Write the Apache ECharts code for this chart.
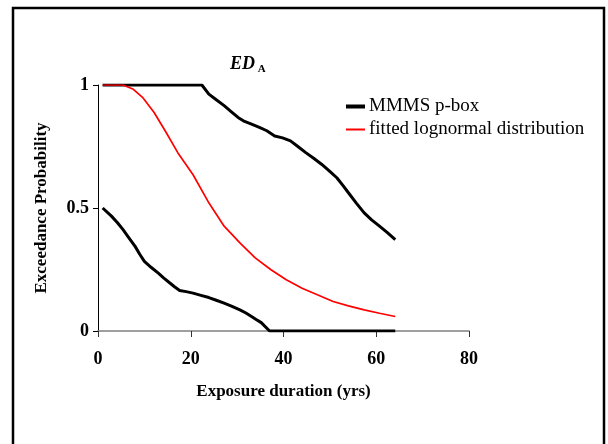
<!DOCTYPE html>
<html><head><meta charset="utf-8">
<script src="https://cdn.jsdelivr.net/npm/echarts@6/dist/echarts.min.js"></script>
<style>html,body{margin:0;padding:0;background:#fff}#c{width:608px;height:444px}</style>
</head><body><div id="c"></div>
<script>
const xTicks = [0, 20, 40, 60, 80];
const yTicks = [0, 0.5, 1];
const seriesNames = ['MMMS p-box', 'fitted lognormal distribution'];
const upperX = [1, 22.4, 23.9, 25.5, 27.2, 28.7, 30.2, 31.6, 33.1, 34.8, 36.4, 38.1, 39.8, 41.5, 43.1, 44.8, 46.5, 48.2, 49.8, 51.5, 52.8, 54, 55.7, 57.4, 59, 60.7, 62.4, 64.1];
const upperY = [1, 1, 0.963, 0.94, 0.916, 0.892, 0.868, 0.852, 0.841, 0.828, 0.814, 0.793, 0.785, 0.773, 0.75, 0.725, 0.702, 0.678, 0.652, 0.623, 0.592, 0.562, 0.52, 0.48, 0.452, 0.426, 0.4, 0.371];
const lowerX = [1, 2.9, 4.2, 5.4, 6.7, 8, 9, 10, 11.5, 13, 14.2, 15.5, 16.5, 17.6, 19, 20.5, 22.2, 23.9, 25.5, 27.2, 28.9, 30.6, 31.9, 33.1, 34.1, 35.2, 37, 64.1];
const lowerY = [0.5, 0.467, 0.44, 0.412, 0.378, 0.344, 0.312, 0.283, 0.258, 0.235, 0.215, 0.195, 0.18, 0.165, 0.16, 0.154, 0.145, 0.136, 0.125, 0.113, 0.1, 0.086, 0.073, 0.059, 0.047, 0.034, 0, 0];
const fitX = [1, 5.4, 7.5, 9.6, 12.1, 14.7, 17.2, 20.5, 23.9, 27.2, 30.6, 33.9, 37.3, 40.6, 44, 47.3, 50.7, 54, 57.4, 60.7, 64.1];
const fitY = [1, 1, 0.984, 0.95, 0.888, 0.807, 0.725, 0.635, 0.521, 0.426, 0.358, 0.297, 0.249, 0.208, 0.174, 0.147, 0.12, 0.102, 0.086, 0.072, 0.059];

const zip = (xs, ys) => xs.map((x, i) => [x, ys[i]]);
const F = 'Liberation Serif';
const chart = echarts.init(document.getElementById('c'), null, {renderer: 'canvas'});
chart.setOption({
  animation: false,
  backgroundColor: '#fff',
  grid: {left: 98, right: 139, top: 85, bottom: 113},
  title: {
    text: '{a|ED}{b| A}',
    left: 225, top: 50,
    textStyle: {
      rich: {
        a: {fontFamily: F, fontSize: 18, fontWeight: 'bold', fontStyle: 'italic', color: '#000', verticalAlign: 'bottom'},
        b: {fontFamily: F, fontSize: 11, fontWeight: 'bold', color: '#000', verticalAlign: 'bottom', padding: [0, 0, -2, 0]}
      }
    }
  },
  graphic: [{
    type: 'rect', shape: {x: 13, y: 8, width: 591, height: 460},
    style: {fill: 'none', stroke: '#000', lineWidth: 2.5}, silent: true
  }],
  legend: [{
    data: [seriesNames[0]], left: 341, top: 92, icon: 'rect', itemWidth: 19, itemHeight: 4, itemGap: 4,
    textStyle: {fontFamily: F, fontSize: 19, color: '#000', padding: [0, 0, 0, -1]}
  }, {
    data: [seriesNames[1]], left: 341, top: 115, icon: 'rect', itemWidth: 19, itemHeight: 2,
    textStyle: {fontFamily: F, fontSize: 19, color: '#000', padding: [0, 0, 0, -1]}
  }],
  xAxis: {
    type: 'value', min: xTicks[0], max: xTicks[xTicks.length - 1], interval: 20,
    name: 'Exposure duration (yrs)', nameLocation: 'middle', nameGap: 52,
    nameTextStyle: {fontFamily: F, fontSize: 17, fontWeight: 'bold', color: '#000'},
    axisLine: {show: true, onZero: false, lineStyle: {color: '#808080', width: 1.5}},
    axisTick: {show: true, length: 6, inside: false, lineStyle: {color: '#333', width: 1}},
    axisLabel: {fontFamily: F, fontSize: 18, fontWeight: 'bold', color: '#000', margin: 19},
    splitLine: {show: false}
  },
  yAxis: {
    type: 'value', min: yTicks[0], max: yTicks[yTicks.length - 1], interval: 0.5,
    name: 'Exceedance Probability', nameLocation: 'middle', nameGap: 48, nameRotate: 90,
    nameTextStyle: {fontFamily: F, fontSize: 17, fontWeight: 'bold', color: '#000'},
    axisLine: {show: true, lineStyle: {color: '#000', width: 1}},
    axisTick: {show: true, length: 5, lineStyle: {color: '#000', width: 1}},
    axisLabel: {fontFamily: F, fontSize: 18, fontWeight: 'bold', color: '#000', margin: 9,
      formatter: v => String(v)},
    splitLine: {show: false}
  },
  series: [{
    name: seriesNames[0], type: 'line', data: zip(upperX, upperY), symbol: 'none',
    lineStyle: {color: '#000', width: 3}, itemStyle: {color: '#000'}, z: 2
  }, {
    name: seriesNames[0], type: 'line', data: zip(lowerX, lowerY), symbol: 'none',
    lineStyle: {color: '#000', width: 3}, itemStyle: {color: '#000'}, z: 2
  }, {
    name: seriesNames[1], type: 'line', data: zip(fitX, fitY), symbol: 'none',
    lineStyle: {color: '#ff0000', width: 1.7}, itemStyle: {color: '#ff0000'}, z: 3
  }]
});
</script></body></html>
